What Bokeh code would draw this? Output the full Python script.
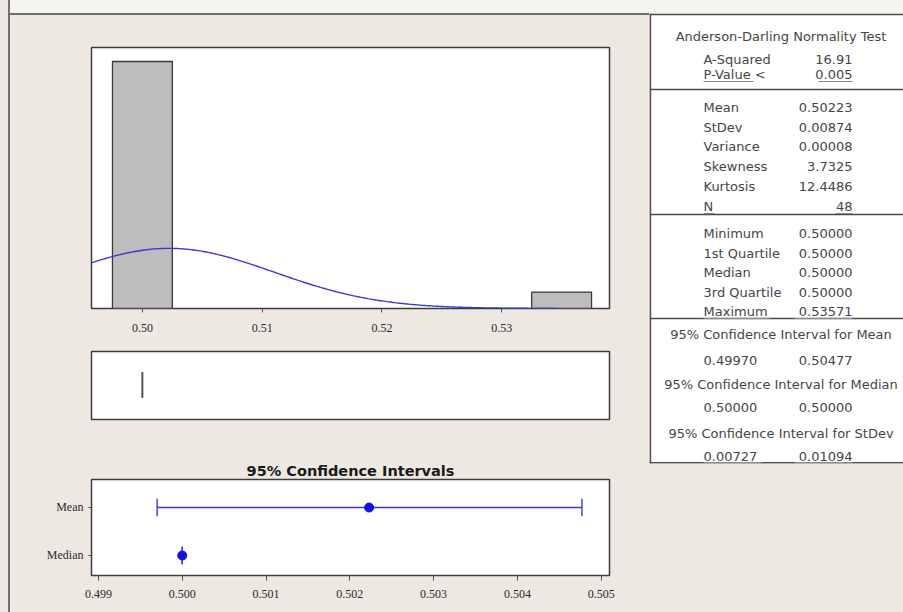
import numpy as np
from bokeh.plotting import figure
from bokeh.layouts import row, column
from bokeh.models import Range1d, FixedTicker, Spacer
from bokeh.core.properties import value
from bokeh.embed import file_html
from bokeh.resources import INLINE

# ---------------- data ----------------
bin_centers = [0.500, 0.535]
bin_counts = [45, 3]
bin_width = 0.005
n_obs = 48
mean_val = 0.50223
stdev_val = 0.00874
box_q1, box_median, box_q3 = 0.50000, 0.50000, 0.50000

hist_ticks = [0.50, 0.51, 0.52, 0.53]
hist_tick_labels = ["0.50", "0.51", "0.52", "0.53"]

ci_ticks = [0.499, 0.500, 0.501, 0.502, 0.503, 0.504, 0.505]
ci_tick_labels = ["0.499", "0.500", "0.501", "0.502", "0.503", "0.504", "0.505"]
ci_names = ["Mean", "Median"]
ci_levels = [1, 0]
ci_lower = [0.49970, 0.50000]
ci_upper = [0.50477, 0.50000]
ci_center = [0.50223, 0.50000]

ad_title = "Anderson-Darling Normality Test"
ad_labels = ["A-Squared", "P-Value <"]
ad_values = ["16.91", "0.005"]
desc_labels = ["Mean", "StDev", "Variance", "Skewness", "Kurtosis", "N"]
desc_values = ["0.50223", "0.00874", "0.00008", "3.7325", "12.4486", "48"]
quart_labels = ["Minimum", "1st Quartile", "Median", "3rd Quartile", "Maximum"]
quart_values = ["0.50000", "0.50000", "0.50000", "0.50000", "0.53571"]
ci_titles = ["95% Confidence Interval for Mean",
             "95% Confidence Interval for Median",
             "95% Confidence Interval for StDev"]
ci_lo_text = ["0.49970", "0.50000", "0.00727"]
ci_hi_text = ["0.50477", "0.50000", "0.01094"]

# ---------------- style ----------------
BEIGE = "#EDE8E1"
TOPSTRIP = "#F6F4F0"
FRAME = "#3c3c3c"
AXFONT = "Liberation Sans Narrow, Liberation Serif"
TFONT = "DejaVu Sans"
TCOL = "#454545"
BLUE_LINE = "#3a3ad0"
BLUE_MARK = "#1010e0"
EDGE = "#707070"


def make_fig(w, h, xr, yr, mbl, mbr, mbt, mbb, xaxis=True, yaxis=False):
    p = figure(width=w, height=h, x_range=xr, y_range=yr,
               output_backend="svg", toolbar_location=None,
               x_axis_location="below" if xaxis else None,
               y_axis_location="left" if yaxis else None,
               min_border_left=mbl, min_border_right=mbr,
               min_border_top=mbt, min_border_bottom=mbb)
    p.background_fill_color = "white"
    p.border_fill_color = BEIGE
    p.outline_line_color = FRAME
    p.outline_line_width = 1.5
    p.grid.visible = False
    return p


def style_axis(ax, tick_out, standoff):
    ax.axis_line_color = None
    ax.major_tick_in = 0
    ax.major_tick_out = tick_out
    ax.minor_tick_line_color = None
    ax.major_tick_line_color = "#555555"
    ax.major_label_text_font = AXFONT
    ax.major_label_text_font_size = "12px"
    ax.major_label_text_color = "#2a2a2a"
    ax.major_label_standoff = standoff


PANEL_W = 639          # left panel width (after margin strip and edge line)
x_lo, x_hi = 0.49575, 0.53900

# ---------------- histogram ----------------
ph = make_fig(PANEL_W, 328, Range1d(x_lo, x_hi), Range1d(0, 47.55), 80, 40, 32, 35)
ph.vbar(x=bin_centers, width=bin_width, top=bin_counts, bottom=0,
        fill_color="#bdbdbd", line_color="#3a3a3a", line_width=1.3)
xs = np.linspace(0.4950, 0.5346, 300)
ys = n_obs * bin_width * np.exp(-0.5 * ((xs - mean_val) / stdev_val) ** 2) / (stdev_val * np.sqrt(2 * np.pi))
ph.line(xs, ys, line_color=BLUE_LINE, line_width=1.4)
ph.xaxis.ticker = FixedTicker(ticks=hist_ticks)
ph.xaxis.major_label_overrides = dict(zip(hist_ticks, hist_tick_labels))
style_axis(ph.xaxis[0], 4, 11)

# ---------------- box plot ----------------
pb = make_fig(PANEL_W, 105, Range1d(x_lo, x_hi), Range1d(0, 1), 80, 40, 8, 29, xaxis=False)
pb.segment(x0=[box_q1], y0=[0.32], x1=[box_q3], y1=[0.70], line_color="#555555", line_width=1.6)
pb.segment(x0=[box_median], y0=[0.32], x1=[box_median], y1=[0.70], line_color="#555555", line_width=1.6)

# ---------------- confidence intervals ----------------
pc = make_fig(PANEL_W, 164, Range1d(0.498917, 0.505099), Range1d(-0.4167, 1.5833),
              81, 39, 31, 37, xaxis=True, yaxis=True)
pc.segment(x0=ci_lower, y0=ci_levels, x1=ci_upper, y1=ci_levels, line_color=BLUE_LINE, line_width=1.4)
cap = 0.18
pc.segment(x0=ci_lower, y0=[v - cap for v in ci_levels], x1=ci_lower, y1=[v + cap for v in ci_levels],
           line_color=BLUE_LINE, line_width=1.4)
pc.segment(x0=ci_upper, y0=[v - cap for v in ci_levels], x1=ci_upper, y1=[v + cap for v in ci_levels],
           line_color=BLUE_LINE, line_width=1.4)
pc.scatter(x=ci_center, y=ci_levels, size=9, fill_color=BLUE_MARK, line_color=BLUE_MARK)
pc.xaxis.ticker = FixedTicker(ticks=ci_ticks)
pc.xaxis.major_label_overrides = dict(zip(ci_ticks, ci_tick_labels))
style_axis(pc.xaxis[0], 5, 9)
pc.yaxis.ticker = FixedTicker(ticks=ci_levels)
pc.yaxis.major_label_overrides = dict(zip(ci_levels, ci_names))
style_axis(pc.yaxis[0], 3, 5)
pc.title.text = "95% Confidence Intervals"
pc.title.align = "center"
pc.title.text_font = TFONT
pc.title.text_font_size = "14.5px"
pc.title.text_font_style = "bold"
pc.title.text_color = "#1a1a1a"
pc.title.standoff = 1

top_strip = Spacer(width=PANEL_W, height=13, styles={"background-color": TOPSTRIP})
top_edge = Spacer(width=PANEL_W, height=2, styles={"background-color": EDGE})
panel = column(top_strip, top_edge, ph, pb, pc, spacing=0,
               styles={"background-color": BEIGE})

margin_strip = Spacer(width=8, height=612, styles={"background-color": BEIGE})
left_edge = Spacer(width=2, height=612, styles={"background-color": EDGE})

# ---------------- statistics table ----------------
TW, TH = 254, 450
pt = figure(width=TW, height=599, x_range=Range1d(0, TW), y_range=Range1d(TH, 0),
            output_backend="svg", toolbar_location=None,
            x_axis_location=None, y_axis_location=None,
            min_border_left=0, min_border_right=0, min_border_top=0, min_border_bottom=149)
pt.background_fill_color = "white"
pt.border_fill_color = BEIGE
pt.outline_line_color = None
pt.grid.visible = False

LX, RX, CX = 54, 203, 131.5
row_y_ad = [46, 60.5]
row_y_desc = [94, 113.7, 133.4, 153.1, 172.8, 192.5]
row_y_quart = [220, 239.5, 259, 278.5, 298]
row_y_ci_head = [321, 370.5, 419.5]
row_y_ci_vals = [347, 394, 443]
div_y = [76, 201, 305]

txt = dict(text_font=value(TFONT), text_font_size="13px", text_color=TCOL, text_baseline="middle")
pt.text(x=[CX], y=[23], text=[ad_title], text_align="center", **txt)
pt.text(x=[LX] * 2, y=row_y_ad, text=ad_labels, text_align="left", **txt)
pt.text(x=[RX] * 2, y=row_y_ad, text=ad_values, text_align="right", **txt)
pt.text(x=[LX] * 6, y=row_y_desc, text=desc_labels, text_align="left", **txt)
pt.text(x=[RX] * 6, y=row_y_desc, text=desc_values, text_align="right", **txt)
pt.text(x=[LX] * 5, y=row_y_quart, text=quart_labels, text_align="left", **txt)
pt.text(x=[RX] * 5, y=row_y_quart, text=quart_values, text_align="right", **txt)
pt.text(x=[CX] * 3, y=row_y_ci_head, text=ci_titles, text_align="center", **txt)
pt.text(x=[LX] * 3, y=row_y_ci_vals, text=ci_lo_text, text_align="left", **txt)
pt.text(x=[RX] * 3, y=row_y_ci_vals, text=ci_hi_text, text_align="right", **txt)

# table rules
pt.segment(x0=[0] * 3, y0=div_y, x1=[TW] * 3, y1=div_y, line_color="#4a4a4a", line_width=1.4)
pt.segment(x0=[0.8, 0, 0], y0=[0, 0.9, TH - 0.7], x1=[0.8, TW, TW], y1=[TH, 0.9, TH - 0.7],
           line_color="#4a4a4a", line_width=1.8)
# underlines of the last rows of each block
ul_y = [68, 200, 305, 449]
pt.segment(x0=[LX, LX, LX, LX], y0=ul_y, x1=[LX + 50, LX + 11, LX + 66, LX + 58], y1=ul_y,
           line_color="#8a8a8a", line_width=1)
pt.segment(x0=[RX - 34, RX - 17, RX - 58, RX - 58], y0=ul_y, x1=[RX, RX, RX, RX], y1=ul_y,
           line_color="#8a8a8a", line_width=1)

table_top = Spacer(width=TW, height=13, styles={"background-color": TOPSTRIP})
table_col = column(table_top, pt, spacing=0, styles={"background-color": BEIGE})

layout = row(margin_strip, left_edge, panel, table_col, spacing=0,
             styles={"background-color": BEIGE})

open("out.html", "w").write(file_html(layout, INLINE))
